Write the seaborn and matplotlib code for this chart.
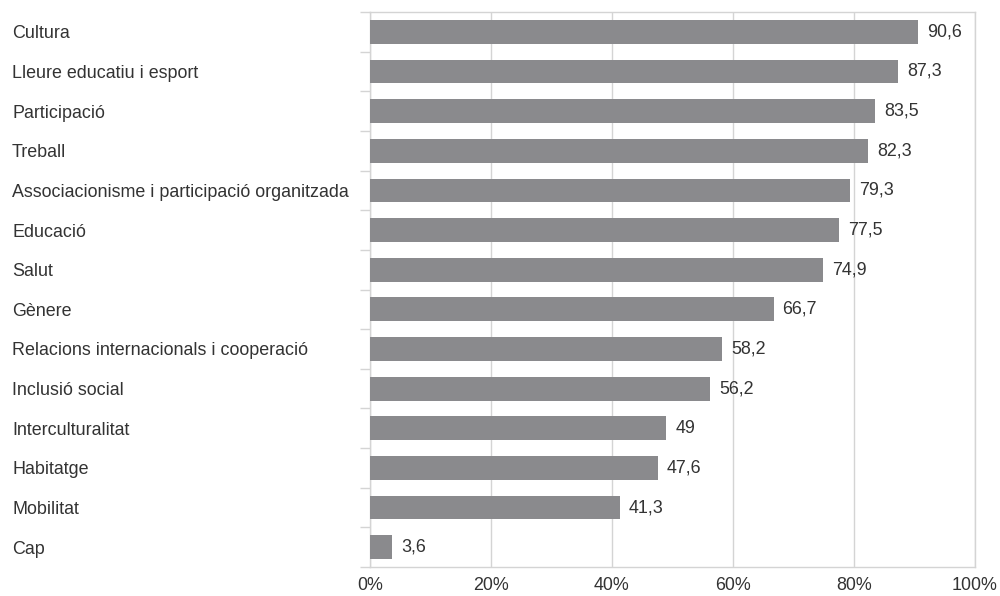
import matplotlib
matplotlib.use("Agg")
import matplotlib.pyplot as plt
import seaborn as sns
import numpy as np
import pandas as pd

categories = ["Cultura", "Lleure educatiu i esport", "Participació", "Treball",
              "Associacionisme i participació organitzada", "Educació", "Salut",
              "Gènere", "Relacions internacionals i cooperació", "Inclusió social",
              "Interculturalitat", "Habitatge", "Mobilitat", "Cap"]
values = [90.6, 87.3, 83.5, 82.3, 79.3, 77.5, 74.9, 66.7, 58.2, 56.2, 49, 47.6, 41.3, 3.6]
value_labels = ["90,6", "87,3", "83,5", "82,3", "79,3", "77,5", "74,9", "66,7",
                "58,2", "56,2", "49", "47,6", "41,3", "3,6"]
xticks = [0, 20, 40, 60, 80, 100]
xtick_labels = ["0%", "20%", "40%", "60%", "80%", "100%"]

sns.set_theme(style="white")
plt.rcParams['font.family'] = ['Liberation Sans', 'DejaVu Sans']

text_color = "#333333"
grid_color = "#d4d4d4"
bar_color = "#8a8a8d"
fs = 12.9

df = pd.DataFrame({"cat": categories, "val": values})

fig = plt.figure(figsize=(10, 5.96), dpi=100)
ax = fig.add_axes([0.37, 1 - 567 / 596, 0.605, (567 - 12) / 596])

sns.barplot(data=df, y="cat", x="val", orient="h", color=bar_color,
            width=0.6, saturation=1, ax=ax, zorder=3, linewidth=0,
            edgecolor="none")

n = len(categories)
ax.set_xlim(0, 100)
ax.set_ylim(n - 0.5, -0.5)
ax.set_xticks(xticks)
ax.set_xticklabels(xtick_labels, fontsize=fs, color=text_color)
ax.xaxis.grid(True, color=grid_color, linewidth=1, zorder=0)
ax.yaxis.grid(False)
ax.set_xlabel("")
ax.set_ylabel("")
ax.tick_params(axis="x", length=0, pad=7)

ax.set_yticks(range(n))
ax.set_yticklabels(categories, fontsize=fs, color=text_color, ha="left")
ax.tick_params(axis="y", which="major", left=True, length=0, pad=(370 - 12) * 0.72)
ax.set_yticks(np.arange(-0.5, n, 1.0), minor=True)
ax.tick_params(axis="y", which="minor", left=True, length=7.2, color=grid_color, width=1)

for s in ax.spines.values():
    s.set_visible(True)
    s.set_color(grid_color)
    s.set_linewidth(1)

for i, (v, lab) in enumerate(zip(values, value_labels)):
    ax.annotate(lab, xy=(v, i), xytext=(6.5, 0), textcoords="offset points",
                va="center", ha="left", fontsize=fs, color=text_color)

fig.savefig("out.png", dpi=100, facecolor="white")
